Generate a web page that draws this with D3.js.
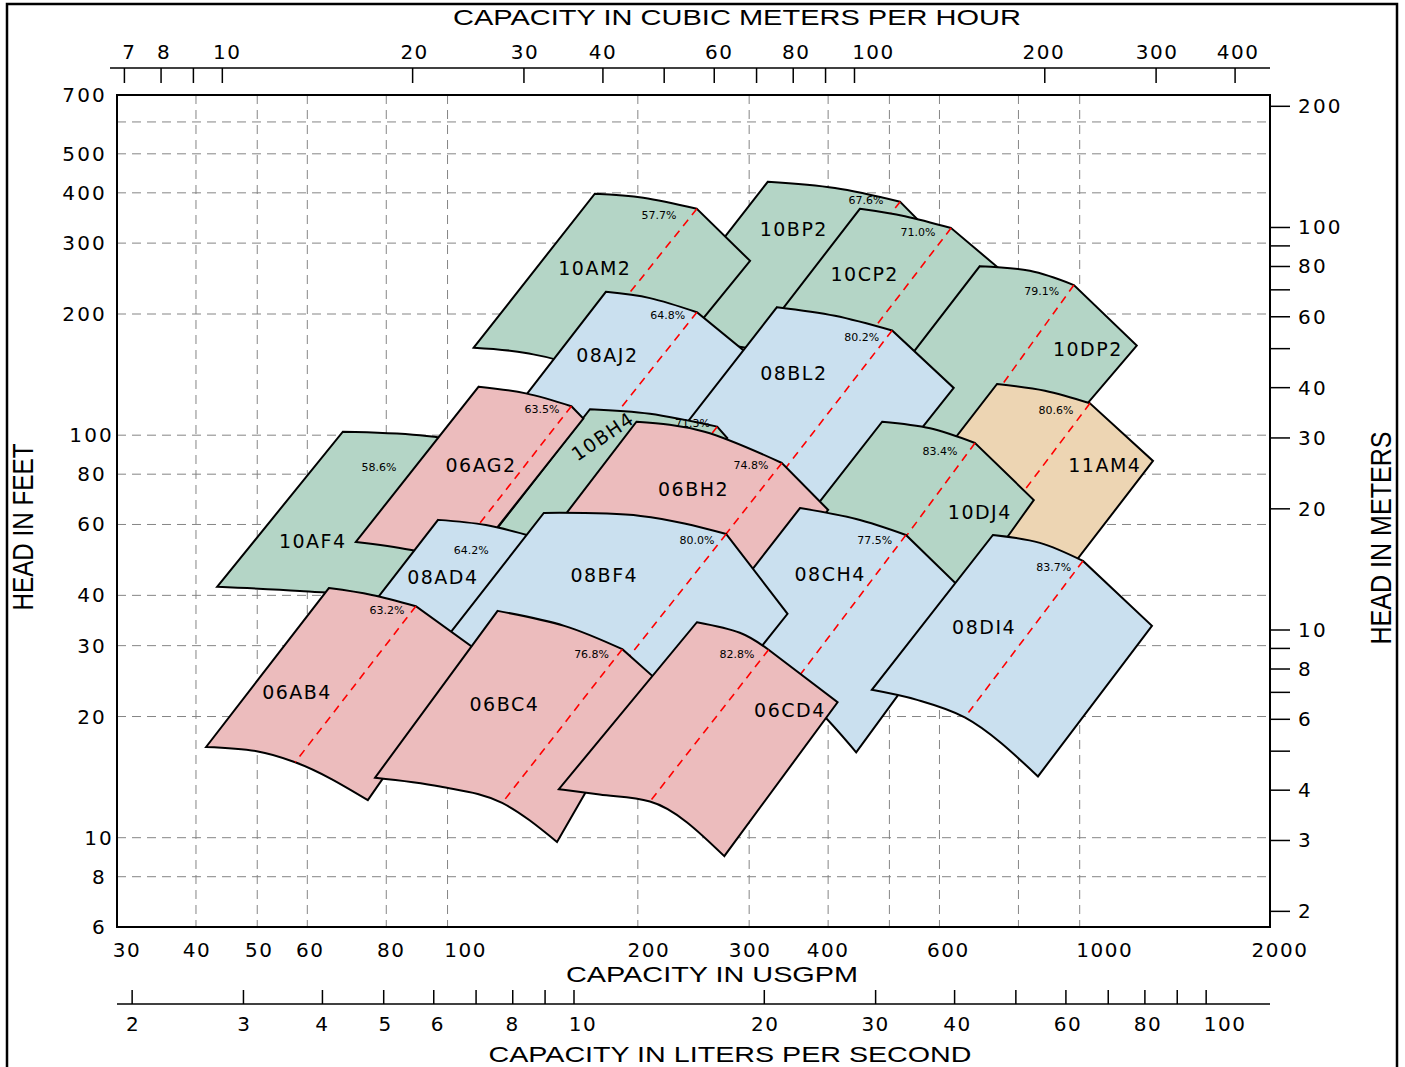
<!DOCTYPE html>
<html>
<head>
<meta charset="utf-8">
<script src="https://cdn.jsdelivr.net/npm/d3@7/dist/d3.min.js"></script>
<style>
html,body{margin:0;padding:0;background:#fff;}
svg{display:block;}
</style>
</head>
<body>
<svg id="chart" width="1405" height="1067"></svg>
<script>
// ---------- axis data ----------
const gpmTicks = [30, 40, 50, 60, 80, 100, 200, 300, 400, 600, 1000, 2000];
const gpmGrid = [40, 50, 60, 80, 100, 200, 300, 400, 500, 600, 800, 1000];
const ftTicks = [700, 500, 400, 300, 200, 100, 80, 60, 40, 30, 20, 10, 8, 6];
const ftGrid = [600, 500, 400, 300, 200, 100, 80, 60, 40, 30, 20, 10, 8];
const m3hTicks = [7, 8, 9, 10, 20, 30, 40, 50, 60, 70, 80, 90, 100, 200, 300, 400];
const m3hLabels = [7, 8, 10, 20, 30, 40, 60, 80, 100, 200, 300, 400];
const lpsTicks = [2, 3, 4, 5, 6, 7, 8, 9, 10, 20, 30, 40, 50, 60, 70, 80, 90, 100];
const lpsLabels = [2, 3, 4, 5, 6, 8, 10, 20, 30, 40, 60, 80, 100];
const mTicks = [2, 3, 4, 5, 6, 7, 8, 9, 10, 20, 30, 40, 50, 60, 70, 80, 90, 100, 200];
const mLabels = [2, 3, 4, 6, 8, 10, 20, 30, 40, 60, 80, 100, 200];

// ---------- pump coverage regions: [USGPM, head ft] ----------
// order: top-left, top-mid, BEP on top curve, top-right, bottom-right, BEP on bottom curve, bottom-mid, bottom-left
const r10BP2 = [[321,426],[410,411],[520,380],[619,288],[410,122],[333,156],[270,169],[207,176]];
const r10AM2 = [[171,398],[204,389],[248,365],[301,271],[193,115],[157,149],[133,160],[110,165]];
const r10CP2 = [[449,365],[529,350],[626,327],[776,246],[505,106],[403,133],[348,144],[290,150]];
const r10DP2 = [[695,263],[834,256],[979,236],[1231,167],[767,69.8],[642,94.0],[543,99.5],[449,108]];
const r08AJ2 = [[178,227],[209,219],[248,202],[296,161],[202,69.0],[158,82.9],[135,89.3],[115,93.5]];
const r08BL2 = [[332,208],[410,198],[505,182],[632,131],[407,54.9],[325,74.4],[270,81.0],[214,85.8]];
const r11AM4 = [[740,134],[881,129],[1038,120],[1306,86.3],[853,36.2],[678,49.3],[580,52.5],[478,55.2]];
const r10DJ4 = [[487,108],[580,104],[683,95.6],[846,69.0],[569,28.9],[449,39.2],[381,41.7],[314,44.7]];
const r10AF4 = [[68.3,102],[90.4,100],[120,94.0],[131,78.3],[87.8,32.8],[79.6,39.4],[58.4,41.0],[43.2,42.0]];
const r10BH4 = [[168,116],[209,113],[267,105],[277,98.4],[179,41.2],[172,42.9],[137,45.7],[108,47.6]];
const r06AG2 = [[112,132],[133,127],[157,118],[164,110],[106,46.2],[101,48.7],[87.2,51.9],[71.6,54.3]];
const r06BH2 = [[199,108],[255,102],[338,85.3],[400,65.2],[262,27.3],[216,34.9],[174,40.1],[129,44.4]];
const r08AD4 = [[96.6,61.6],[115,59.8],[137,55.9],[165,43.7],[108,18.5],[89.5,22.5],[75.4,24.1],[62.4,25.4]];
const r08CH4 = [[361,65.9],[443,61.9],[531,56.5],[670,39.6],[443,16.3],[348,23.5],[290,25.4],[233,27.2]];
const r08BF4 = [[142,64.1],[202,63.0],[276,56.8],[345,36.0],[222,15.1],[176,23.3],[140,24.6],[91.4,26.4]];
const r06AB4 = [[64.9,41.7],[75.9,40.1],[89.1,37.6],[110,29.6],[74.8,12.4],[57.4,15.4],[49.9,16.4],[41.5,16.8]];
const r06BC4 = [[120,36.6],[153,33.6],[189,29.4],[211,25.2],[149,9.76],[122,12.2],[97.3,13.4],[76.8,14.1]];
const r06CD4 = [[248,34.3],[290,32.3],[322,29.3],[414,21.7],[274,9.00],[209,12.3],[174,12.8],[150,13.2]];
const r08DI4 = [[729,56.5],[865,54.0],[1012,48.7],[1301,33.6],[859,14.2],[658,19.9],[553,22.0],[469,23.3]];

// drawing order (back to front)
const regionNames = ["10BP2","10AM2","10CP2","10DP2","08AJ2","08BL2","11AM4","10DJ4","10AF4","10BH4",
                     "06AG2","06BH2","08AD4","08CH4","08BF4","06AB4","06BC4","06CD4","08DI4"];
const regionOutlines = [r10BP2,r10AM2,r10CP2,r10DP2,r08AJ2,r08BL2,r11AM4,r10DJ4,r10AF4,r10BH4,
                        r06AG2,r06BH2,r08AD4,r08CH4,r08BF4,r06AB4,r06BC4,r06CD4,r08DI4];
const regionFamily = ["10","10","10","10","08","08","11","10","10","10",
                      "06","06","08","08","08","06","06","06","08"];
const regionEff = ["67.6%","57.7%","71.0%","79.1%","64.8%","80.2%","80.6%","83.4%","58.6%","71.3%",
                   "63.5%","74.8%","64.2%","77.5%","80.0%","63.2%","76.8%","82.8%","83.7%"];
const regionNameAt = [[353,325],[171,260],[457,251],[1030,164],[179,158],[353,143],[1096,84.3],[695,64.4],[61.2,54.6],[176,99.5],
                      [113,84.3],[245,73.5],[98.3,44.4],[403,45.2],[177,44.9],[57.8,23.0],[123,21.5],[348,20.8],[706,33.4]];
const regionEffAt = [[459,382],[216,352],[555,318],[871,227],[223,198],[452,175],[917,115],[601,91.3],[77.9,82.9],[244,107],
                     [141,116],[302,83.9],[109,51.6],[474,54.9],[248,54.6],[80.2,36.6],[169,28.6],[287,28.6],[910,47.0]];

// ---------- styles ----------
const familyColor = {"10":"#b4d5c6","08":"#cae0ef","06":"#ecbcbd","11":"#edd5b3"};
const rotatedName = {"10BH4": -34};
const gpmLabelDx = {30:10, 40:1, 50:2, 60:3, 80:5, 100:18, 200:11, 300:1, 400:0, 600:9, 1000:25, 2000:10};
const m3hLabelDx = {7:5, 8:3, 10:5, 20:2, 30:1, 40:0, 60:5, 80:3, 100:19, 200:-1, 300:1, 400:3};
const lpsLabelDx = {2:1, 3:1, 4:0, 5:2, 6:4, 8:0, 10:9, 20:1, 30:0, 40:3, 60:2, 80:3, 100:19};
const GPM_PER_M3H = 4.40287, GPM_PER_LPS = 15.8503, FT_PER_M = 3.28084;
const NUMFONT = "'DejaVu Sans', Verdana, sans-serif";
const TITLEFONT = "'Liberation Sans', Arial, sans-serif";

const X0 = 117, X1 = 1270, Y0 = 95, Y1 = 927;
const x = d3.scaleLog().domain([30, 2000]).range([X0, X1]);
const y = d3.scaleLog().domain([6, 700]).range([Y1, Y0]);

const svg = d3.select("#chart");

// outer border
svg.append("rect").attr("x", 7).attr("y", 4).attr("width", 1390).attr("height", 1075)
  .attr("fill", "none").attr("stroke", "#000").attr("stroke-width", 2.5);

// grid
const grid = svg.append("g").attr("stroke", "#858585").attr("stroke-width", 1).attr("stroke-dasharray", "9,6");
grid.selectAll("line.h").data(ftGrid).join("line").attr("class", "h")
  .attr("x1", X0).attr("x2", X1).attr("y1", d => y(d)).attr("y2", d => y(d));
grid.selectAll("line.v").data(gpmGrid).join("line").attr("class", "v")
  .attr("y1", Y0).attr("y2", Y1).attr("x1", d => x(d)).attr("x2", d => x(d));

// regions
function px(d) { return [x(d[0]), y(d[1])]; }
function stripM(s) { return s.replace(/^M[^A-Za-z]*/, ""); }
function outlinePath(p) {
  const P = p.map(px);
  // bottom curve left -> right (monotone, no overshoot)
  const bot = d3.line().curve(d3.curveMonotoneX)([P[7], P[6], P[5], P[4]]);
  // top curve from BEP back to top-left
  const top = d3.line().curve(d3.curveNatural)([P[2], P[1], P[0]]);
  return bot + "L" + P[3].join(",") + "L" + P[2].join(",") + stripM(top) + "Z";
}
const regG = svg.append("g");
regionNames.forEach((nm, i) => {
  const p = regionOutlines[i];
  const g = regG.append("g");
  g.append("path").attr("d", outlinePath(p))
    .attr("fill", familyColor[regionFamily[i]]).attr("stroke", "#000")
    .attr("stroke-width", 2).attr("stroke-linejoin", "miter");
  g.append("path").attr("d", d3.line()([px(p[2]), px(p[5])]))
    .attr("fill", "none").attr("stroke", "#ff0000").attr("stroke-width", 1.6)
    .attr("stroke-dasharray", "8,6");
});

// labels
const labG = svg.append("g");
regionNames.forEach((nm, i) => {
  const [lx, ly] = px(regionNameAt[i]);
  const t = labG.append("text").attr("x", lx).attr("y", ly)
    .attr("text-anchor", "middle").attr("dominant-baseline", "central")
    .attr("font-family", NUMFONT).attr("font-size", 19).attr("letter-spacing", 1.5)
    .attr("fill", "#000").text(nm);
  if (rotatedName[nm] !== undefined) t.attr("transform", `rotate(${rotatedName[nm]},${lx},${ly})`);
  const [ex, ey] = px(regionEffAt[i]);
  labG.append("text").attr("x", ex).attr("y", ey)
    .attr("text-anchor", "middle").attr("dominant-baseline", "central")
    .attr("font-family", NUMFONT).attr("font-size", 11)
    .attr("fill", "#000").text(regionEff[i]);
});

// plot frame
svg.append("rect").attr("x", X0).attr("y", Y0).attr("width", X1 - X0).attr("height", Y1 - Y0)
  .attr("fill", "none").attr("stroke", "#000").attr("stroke-width", 2);

// bottom USGPM labels
svg.append("g").selectAll("text").data(gpmTicks).join("text")
  .attr("x", d => x(d) + (gpmLabelDx[d] || 0)).attr("y", 950).attr("text-anchor", "middle").attr("dominant-baseline", "central")
  .attr("font-family", NUMFONT).attr("font-size", 20).attr("letter-spacing", 1.5).text(d => d);

// left ft labels
svg.append("g").selectAll("text").data(ftTicks).join("text")
  .attr("x", d => String(d)[0] === "1" ? 114 : 107).attr("y", d => y(d)).attr("text-anchor", "end")
  .attr("dominant-baseline", "central")
  .attr("font-family", NUMFONT).attr("font-size", 20).attr("letter-spacing", 2.2).text(d => d);

// right meter axis
const rg = svg.append("g");
rg.selectAll("line").data(mTicks).join("line")
  .attr("x1", X1).attr("x2", X1 + 20).attr("y1", d => y(d * FT_PER_M)).attr("y2", d => y(d * FT_PER_M))
  .attr("stroke", "#000").attr("stroke-width", 1.5);
rg.selectAll("text").data(mLabels).join("text")
  .attr("x", 1298).attr("y", d => y(d * FT_PER_M)).attr("dominant-baseline", "central")
  .attr("font-family", NUMFONT).attr("font-size", 20).attr("letter-spacing", 2.2).text(d => d);

// top m3/h axis
const tg = svg.append("g");
tg.append("line").attr("x1", 110).attr("x2", X1).attr("y1", 68).attr("y2", 68).attr("stroke", "#000").attr("stroke-width", 1.5);
tg.selectAll("line.t").data(m3hTicks).join("line").attr("class", "t")
  .attr("x1", d => x(d * GPM_PER_M3H)).attr("x2", d => x(d * GPM_PER_M3H)).attr("y1", 68).attr("y2", 83)
  .attr("stroke", "#000").attr("stroke-width", 1.5);
tg.selectAll("text").data(m3hLabels).join("text")
  .attr("x", d => x(d * GPM_PER_M3H) + (m3hLabelDx[d] || 0)).attr("y", 52).attr("text-anchor", "middle").attr("dominant-baseline", "central")
  .attr("font-family", NUMFONT).attr("font-size", 20).attr("letter-spacing", 1.5).text(d => d);

// bottom L/s axis
const bg = svg.append("g");
bg.append("line").attr("x1", X0).attr("x2", X1).attr("y1", 1004).attr("y2", 1004).attr("stroke", "#000").attr("stroke-width", 1.5);
bg.selectAll("line.t").data(lpsTicks).join("line").attr("class", "t")
  .attr("x1", d => x(d * GPM_PER_LPS)).attr("x2", d => x(d * GPM_PER_LPS)).attr("y1", 990).attr("y2", 1004)
  .attr("stroke", "#000").attr("stroke-width", 1.5);
bg.selectAll("text").data(lpsLabels).join("text")
  .attr("x", d => x(d * GPM_PER_LPS) + (lpsLabelDx[d] || 0)).attr("y", 1024).attr("text-anchor", "middle").attr("dominant-baseline", "central")
  .attr("font-family", NUMFONT).attr("font-size", 20).attr("letter-spacing", 1.5).text(d => d);

// titles
function title(txt, cx, cy, len, rot, size) {
  const t = svg.append("text").attr("x", cx).attr("y", cy).attr("text-anchor", "middle")
    .attr("dominant-baseline", "central").attr("font-family", TITLEFONT).attr("font-size", size)
    .attr("textLength", len).attr("lengthAdjust", "spacingAndGlyphs").text(txt);
  if (rot) t.attr("transform", `rotate(${rot},${cx},${cy})`);
}
title("CAPACITY IN CUBIC METERS PER HOUR", 737, 17, 568, 0, 22);
title("CAPACITY IN USGPM", 712, 974, 292, 0, 22);
title("CAPACITY IN LITERS PER SECOND", 730, 1054, 483, 0, 22);
title("HEAD IN FEET", 23, 527, 167, -90, 29);
title("HEAD IN METERS", 1381, 538, 213, -90, 29);
</script>
</body>
</html>
